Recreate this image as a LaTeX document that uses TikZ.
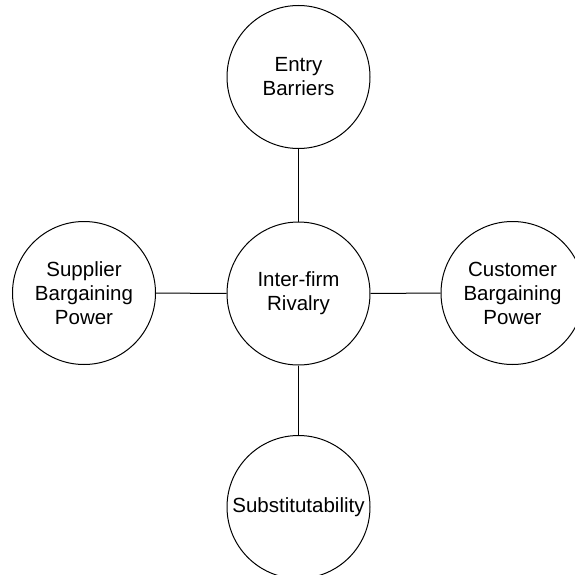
\documentclass[tikz,border=0pt]{standalone}
\usepackage{fontspec}
\setmainfont{Liberation Sans}
\begin{document}
\begin{tikzpicture}[x=1pt,y=-1pt,
  force/.style={draw=black,line width=1pt,circle,minimum size=143pt,inner sep=0pt,align=center,
    font=\fontsize{20.5pt}{24pt}\selectfont,text=black},
  link/.style={draw=black,line width=1pt}]
\useasboundingbox (0,0) rectangle (574,575);
\node[force] (top) at (298.5,77) {Entry\\Barriers};
\node[force] (mid) at (298.5,293.5) {Inter-firm\\Rivalry};
\node[force] (left) at (84,293) {Supplier\\Bargaining\\Power};
\node[force] (right) at (512.5,293) {Customer\\Bargaining\\Power};
\node[force] (bot) at (298.5,507) {Substitutability};
\draw[link] (top) -- (mid);
\draw[link] (mid) -- (bot);
\draw[link] (left) -- (mid);
\draw[link] (mid) -- (right);
\end{tikzpicture}
\end{document}
